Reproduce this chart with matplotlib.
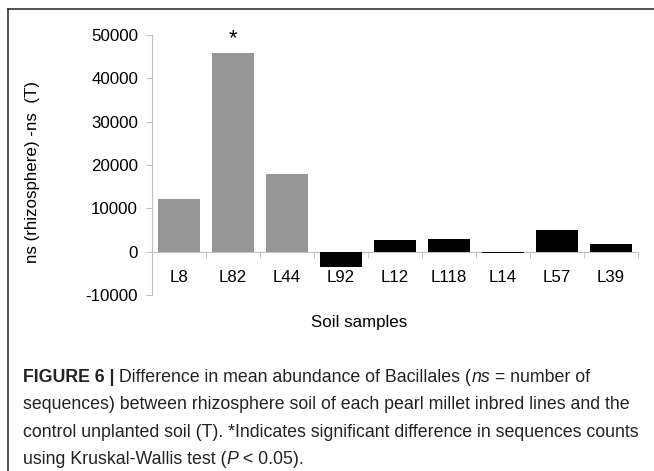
import matplotlib
matplotlib.use('Agg')
import matplotlib.pyplot as plt
from matplotlib.lines import Line2D

plt.rcParams['font.family'] = ['Liberation Sans', 'DejaVu Sans']
plt.rcParams['axes.unicode_minus'] = False

samples = ['L8', 'L82', 'L44', 'L92', 'L12', 'L118', 'L14', 'L57', 'L39']
diff_ns = [12200, 45800, 18000, -3500, 2600, 2900, -300, 5100, 1800]
bar_colors = ['#969696', '#969696', '#969696',
              '#000000', '#000000', '#000000', '#000000', '#000000', '#000000']
significant = ['L82']

caption_lines = [
    [('FIGURE 6 |', {'weight': 'bold'}), (' Difference in mean abundance of Bacillales (', {}),
     ('ns', {'style': 'italic'}), (' = number of', {})],
    [('sequences) between rhizosphere soil of each pearl millet inbred lines and the', {})],
    [('control unplanted soil (T). *Indicates significant difference in sequences counts', {})],
    [('using Kruskal-Wallis test (', {}), ('P', {'style': 'italic'}), (' < 0.05).', {})],
]

W, H = 654, 471
fig = plt.figure(figsize=(W / 100, H / 100), dpi=100)
ax = fig.add_axes([152 / W, 1 - 295 / H, (638 - 152) / W, (295 - 35) / H])

x = list(range(len(samples)))
ax.bar(x, diff_ns, width=0.76, color=bar_colors, zorder=3)

for i, s in enumerate(samples):
    if s in significant:
        ax.text(i, diff_ns[i] + 1000, '*', ha='center', va='bottom', fontsize=16)

ax.set_xlim(-0.5, len(samples) - 0.5)
ax.set_ylim(-10000, 50000)
ax.set_yticks(range(-10000, 50001, 10000))
ax.tick_params(axis='y', length=4, color='#bfbfbf', labelsize=12.2, pad=6)

ax.spines['top'].set_visible(False)
ax.spines['right'].set_visible(False)
ax.spines['left'].set_color('#bfbfbf')
ax.spines['bottom'].set_color('#bfbfbf')
ax.spines['bottom'].set_position(('data', 0))

ax.set_xticks(x)
ax.set_xticklabels(samples)
ax.set_xticks([i - 0.5 for i in range(len(samples) + 1)], minor=True)
ax.tick_params(axis='x', which='major', length=0, labelsize=12.2, pad=13)
ax.tick_params(axis='x', which='minor', length=4, color='#bfbfbf', direction='out')

fig.text(33 / W, 1 - 172 / H, 'ns (rhizosphere) -ns  (T)', rotation=90,
         ha='center', va='center', fontsize=12.2)
fig.text(359 / W, 1 - 323 / H, 'Soil samples', ha='center', va='center', fontsize=12.2)

# frame around the chart panel
fig.add_artist(Line2D([7.5 / W, 7.5 / W], [0, 1 - 9 / H], color='#333333', lw=1.2))
fig.add_artist(Line2D([7.5 / W, 1], [1 - 9 / H, 1 - 9 / H], color='#333333', lw=1.2))

# caption, drawn run by run so bold/italic parts sit inline
renderer = fig.canvas.get_renderer()
baselines = [382, 409, 437, 464]
for runs, yb in zip(caption_lines, baselines):
    xpos = 23
    for text, style in runs:
        t = fig.text(xpos / W, 1 - yb / H, text, fontsize=12.8, va='baseline',
                     color='#222222', **style)
        xpos += t.get_window_extent(renderer).width

fig.savefig('out.png', dpi=100)
